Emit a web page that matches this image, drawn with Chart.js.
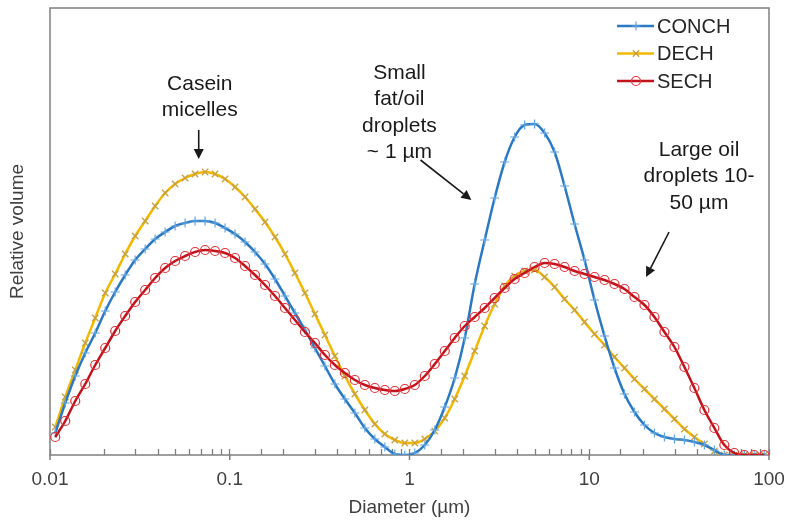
<!DOCTYPE html>
<html>
<head>
<meta charset="utf-8">
<script src="https://cdn.jsdelivr.net/npm/chart.js@4.4.1/dist/chart.umd.min.js"></script>
<style>
html,body{margin:0;padding:0;background:#fff;}
#wrap{width:789px;height:521px;position:relative;}
</style>
</head>
<body>
<div id="wrap"><canvas id="c"></canvas></div>
<script>
// ---- data ----
const diameters = [
  0.0107, 0.01216, 0.01382, 0.01571, 0.01785, 0.02029, 0.02305, 0.0262, 0.02977, 0.03384, 0.03845, 0.0437, 0.04966, 0.05644, 0.06414, 0.07289, 0.08284, 0.09414,
  0.107, 0.1216, 0.1382, 0.1571, 0.1785, 0.2029, 0.2305, 0.262, 0.2977, 0.3384, 0.3845, 0.437, 0.4966, 0.5644, 0.6414, 0.7289, 0.8284, 0.9414,
  1.07, 1.216, 1.382, 1.571, 1.785, 2.029, 2.305, 2.62, 2.977, 3.384, 3.845, 4.37, 4.966, 5.644, 6.414, 7.289, 8.284, 9.414,
  10.7, 12.16, 13.82, 15.71, 17.85, 20.29, 23.05, 26.2, 29.77, 33.84, 38.45, 43.7, 49.66, 56.44, 64.14, 72.89, 82.84, 94.14
];
const conch = [
  0.44, 1.04, 1.58, 2.04, 2.44, 2.88, 3.26, 3.60, 3.90, 4.12, 4.32, 4.46, 4.58, 4.64, 4.68, 4.68, 4.64, 4.54,
  4.42, 4.26, 4.06, 3.82, 3.52, 3.18, 2.84, 2.50, 2.14, 1.78, 1.42, 1.12, 0.84, 0.54, 0.32, 0.16, 0.02, 0.00,
  0.04, 0.20, 0.50, 0.96, 1.54, 2.34, 3.42, 4.30, 5.14, 5.86, 6.36, 6.60, 6.62, 6.44, 6.06, 5.38, 4.62, 3.90,
  3.10, 2.38, 1.74, 1.22, 0.86, 0.60, 0.44, 0.36, 0.32, 0.30, 0.26, 0.20, 0.10, 0, 0, 0, 0, 0
];
const dech = [
  0.56, 1.16, 1.70, 2.24, 2.74, 3.24, 3.62, 4.02, 4.38, 4.68, 4.98, 5.24, 5.42, 5.54, 5.62, 5.66, 5.62, 5.52,
  5.36, 5.16, 4.92, 4.66, 4.36, 4.02, 3.64, 3.24, 2.82, 2.40, 1.98, 1.58, 1.22, 0.90, 0.62, 0.42, 0.30, 0.24,
  0.24, 0.32, 0.48, 0.74, 1.12, 1.58, 2.08, 2.58, 3.02, 3.38, 3.58, 3.68, 3.70, 3.56, 3.36, 3.12, 2.90, 2.66,
  2.42, 2.20, 1.96, 1.74, 1.52, 1.32, 1.12, 0.92, 0.72, 0.52, 0.36, 0.22, 0.08, 0, 0, 0, 0, 0
];
const sech = [
  0.36, 0.68, 1.08, 1.42, 1.80, 2.14, 2.48, 2.78, 3.06, 3.30, 3.54, 3.74, 3.88, 3.98, 4.06, 4.10, 4.08, 4.04,
  3.94, 3.78, 3.60, 3.40, 3.18, 2.94, 2.70, 2.46, 2.24, 2.00, 1.80, 1.64, 1.50, 1.40, 1.34, 1.30, 1.28, 1.32,
  1.40, 1.58, 1.82, 2.08, 2.34, 2.58, 2.76, 2.94, 3.14, 3.34, 3.52, 3.64, 3.76, 3.84, 3.82, 3.76, 3.68, 3.62,
  3.56, 3.50, 3.42, 3.32, 3.16, 3.00, 2.76, 2.46, 2.16, 1.76, 1.34, 0.90, 0.54, 0.20, 0.04, 0, 0, 0
];
const seriesNames = ['CONCH', 'DECH', 'SECH'];
const xTickLabels = [0.01, 0.1, 1, 10, 100];
const xTitle = 'Diameter (µm)';
const yTitle = 'Relative volume';

// annotation texts and arrows, in data coordinates
const noteTexts = [
  { lines: ['Casein', 'micelles'], x: 0.0681, y: 7.42 },
  { lines: ['Small', 'fat/oil', 'droplets', '~ 1 µm'], x: 0.879, y: 7.64 },
  { lines: ['Large oil', 'droplets 10-', '50 µm'], x: 40.8, y: 6.1 }
];
const noteArrows = [
  { from: [0.0672, 6.5], to: [0.0672, 5.92] },
  { from: [1.151, 5.9], to: [2.21, 5.1] },
  { from: [27.8, 4.46], to: [20.7, 3.56] }
];

const FONT = "'Liberation Sans', Arial, sans-serif";
const toPts = arr => diameters.map((d, i) => ({ x: d, y: arr[i] }));

const boxPlugin = {
  id: 'box',
  beforeDatasetsDraw(chart) {
    const { ctx, chartArea: a, scales: { x } } = chart;
    ctx.save();
    ctx.strokeStyle = '#7f7f7f';
    ctx.lineWidth = 1.5;
    ctx.strokeRect(a.left, a.top, a.right - a.left, a.bottom - a.top);
    ctx.beginPath();
    xTickLabels.forEach(v => {
      const px = x.getPixelForValue(v);
      ctx.moveTo(px, a.bottom);
      ctx.lineTo(px, a.bottom + 5);
    });
    ctx.stroke();
    ctx.restore();
  }
};

const legendPlugin = {
  id: 'customLegend',
  afterDraw(chart) {
    const { ctx, chartArea: a } = chart;
    ctx.save();
    const textX = a.right - 113;
    chart.data.datasets.forEach((ds, i) => {
      const y = a.top + 18 + i * 27.5;
      ctx.strokeStyle = ds.borderColor;
      ctx.lineWidth = ds.borderWidth;
      ctx.beginPath();
      ctx.moveTo(textX - 39, y);
      ctx.lineTo(textX - 2, y);
      ctx.stroke();
      ctx.strokeStyle = ds.pointBorderColor;
      ctx.fillStyle = ds.pointBackgroundColor;
      ctx.lineWidth = ds.pointBorderWidth;
      Chart.helpers.drawPoint(ctx, { pointStyle: ds.pointStyle, radius: ds.pointRadius, borderWidth: ds.pointBorderWidth, rotation: 0 }, textX - 20, y);
      ctx.fillStyle = '#262626';
      ctx.font = '20px ' + FONT;
      ctx.textAlign = 'left';
      ctx.textBaseline = 'middle';
      ctx.fillText(ds.label, textX + 1, y + 1);
    });
    ctx.restore();
  }
};

const notesPlugin = {
  id: 'notes',
  afterDraw(chart) {
    const { ctx, scales: { x, y } } = chart;
    ctx.save();
    ctx.fillStyle = '#1a1a1a';
    ctx.font = '21px ' + FONT;
    ctx.textAlign = 'center';
    ctx.textBaseline = 'middle';
    noteTexts.forEach(n => {
      const px = x.getPixelForValue(n.x);
      const py = y.getPixelForValue(n.y);
      n.lines.forEach((t, k) => ctx.fillText(t, px, py + k * 26.5));
    });
    ctx.strokeStyle = '#1a1a1a';
    ctx.lineWidth = 1.6;
    noteArrows.forEach(ar => {
      const x1 = x.getPixelForValue(ar.from[0]), y1 = y.getPixelForValue(ar.from[1]);
      const x2 = x.getPixelForValue(ar.to[0]), y2 = y.getPixelForValue(ar.to[1]);
      const ang = Math.atan2(y2 - y1, x2 - x1);
      const hl = 10, hw = 5;
      const bx = x2 - hl * Math.cos(ang), by = y2 - hl * Math.sin(ang);
      ctx.beginPath();
      ctx.moveTo(x1, y1);
      ctx.lineTo(bx, by);
      ctx.stroke();
      ctx.beginPath();
      ctx.moveTo(x2, y2);
      ctx.lineTo(bx + hw * Math.sin(ang), by - hw * Math.cos(ang));
      ctx.lineTo(bx - hw * Math.sin(ang), by + hw * Math.cos(ang));
      ctx.closePath();
      ctx.fill();
    });
    ctx.restore();
  }
};

new Chart(document.getElementById('c'), {
  type: 'line',
  data: {
    datasets: [
      {
        label: seriesNames[0], data: toPts(conch), order: 1,
        borderColor: '#2b79c2', borderWidth: 2.5,
        pointStyle: 'cross', pointRadius: 4.5, pointBorderWidth: 1.2,
        pointBorderColor: '#62a6e2', pointBackgroundColor: '#62a6e2'
      },
      {
        label: seriesNames[1], data: toPts(dech), order: 2,
        borderColor: '#f2b800', borderWidth: 2.5,
        pointStyle: 'crossRot', pointRadius: 4.5, pointBorderWidth: 1.3,
        pointBorderColor: '#c6a043', pointBackgroundColor: '#c6a043'
      },
      {
        label: seriesNames[2], data: toPts(sech), order: 0,
        borderColor: '#c2121b', borderWidth: 2.5,
        pointStyle: 'circle', pointRadius: 4.5, pointBorderWidth: 1.2,
        pointBorderColor: '#e0323a', pointBackgroundColor: 'rgba(0,0,0,0)'
      }
    ]
  },
  options: {
    responsive: true,
    maintainAspectRatio: false,
    animation: false,
    events: [],
    layout: { padding: { top: 8, right: 20, left: 0, bottom: 0 } },
    elements: { line: { tension: 0.4, cubicInterpolationMode: 'monotone' } },
    plugins: { legend: { display: false }, tooltip: { enabled: false } },
    scales: {
      x: {
        type: 'logarithmic', min: 0.01, max: 100,
        afterFit(s) { s.height = 66; s.paddingLeft = 0; s.paddingRight = 0; },
        border: { display: false },
        grid: { display: true, drawOnChartArea: false, drawTicks: true, tickLength: -6, tickColor: '#7f7f7f', tickWidth: 1.3 },
        ticks: {
          autoSkip: false, maxRotation: 0, padding: 19, color: '#404040',
          font: { family: FONT, size: 19 },
          callback(v) {
            const m = xTickLabels.find(t => Math.abs(Math.log10(t) - Math.log10(v)) < 1e-6);
            return m !== undefined ? String(m) : '';
          }
        },
        title: { display: true, text: xTitle, color: '#404040', font: { family: FONT, size: 19 }, padding: { top: 0, bottom: 2 } }
      },
      y: {
        min: 0, max: 8.94,
        afterFit(s) { s.width = 50; s.paddingTop = 0; s.paddingBottom = 0; },
        border: { display: false },
        grid: { display: false },
        ticks: { display: false },
        title: { display: true, text: yTitle, color: '#404040', font: { family: FONT, size: 19 }, padding: { top: 6, bottom: 0 } }
      }
    }
  },
  plugins: [boxPlugin, legendPlugin, notesPlugin]
});
</script>
</body>
</html>
